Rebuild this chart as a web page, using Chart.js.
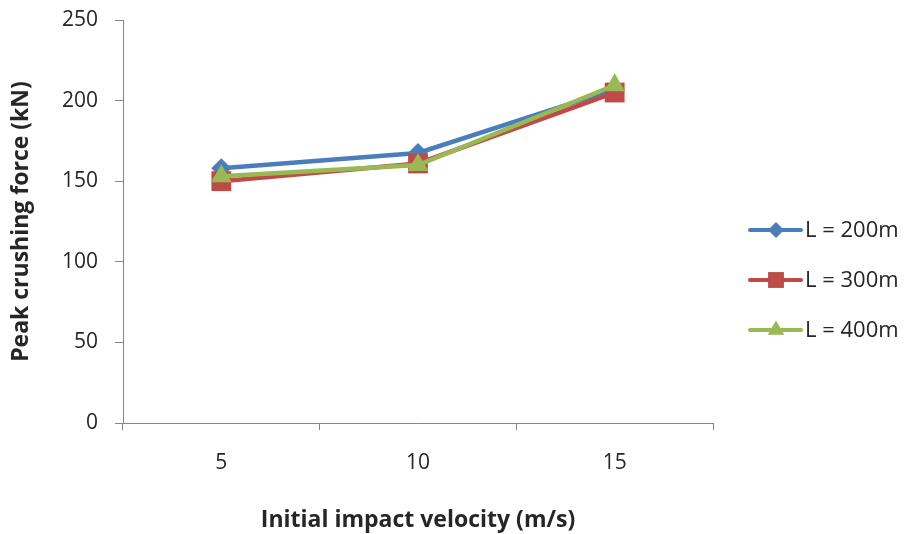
<!DOCTYPE html>
<html>
<head>
<meta charset="utf-8">
<script src="https://cdn.jsdelivr.net/npm/chart.js@4"></script>
<style>
  html, body { margin: 0; padding: 0; background: #fff; }
  #box { width: 909px; height: 534px; }
</style>
</head>
<body>
<div id="box"><canvas id="grafico"></canvas></div>
<script>
// dados
var velocidades = ['5', '10', '15'];
var serieNomes = ['L = 200m', 'L = 300m', 'L = 400m'];
var forcaL200 = [158, 167.5, 207];
var forcaL300 = [150, 161, 205];
var forcaL400 = [153, 160, 209.5];

var cores = ['#4a7ebb', '#be4b48', '#98b954'];
var marcadores = ['rectRot', 'rect', 'triangle'];
var raios = [10, 14, 12];
var fonte = '"Open Sans"';

function serie(i, valores) {
    return {
        label: serieNomes[i],
        data: valores,
        borderColor: cores[i],
        backgroundColor: cores[i],
        borderWidth: 4.5,
        pointStyle: marcadores[i],
        pointRadius: raios[i],
        pointHoverRadius: raios[i],
        pointBorderWidth: 0,
        tension: 0,
        order: 2 - i
    };
}

// legenda no estilo do Excel (linha + marcador)
var legendaExcel = {
    id: 'legendaExcel',
    afterDraw: function(chart) {
        var c = chart.ctx;
        var ys = [230, 280, 330];
        c.save();
        chart.data.datasets.forEach(function(ds, i) {
            var y = ys[i];
            c.strokeStyle = ds.borderColor;
            c.lineWidth = 4;
            c.lineCap = 'round';
            c.beginPath();
            c.moveTo(750, y);
            c.lineTo(801, y);
            c.stroke();
            c.fillStyle = ds.backgroundColor;
            Chart.helpers.drawPoint(c, { pointStyle: ds.pointStyle, radius: ds.pointRadius * 0.8, rotation: 0, borderWidth: 0 }, 776, y);
            c.fillStyle = '#262626';
            c.font = '22px ' + fonte;
            c.textBaseline = 'middle';
            c.fillText(ds.label, 805, y + 1);
        });
        c.restore();
    }
};

var ctx = document.getElementById('grafico').getContext('2d');
var grafico = new Chart(ctx, {
    type: 'line',
    data: {
        labels: velocidades,
        datasets: [serie(0, forcaL200), serie(1, forcaL300), serie(2, forcaL400)]
    },
    plugins: [legendaExcel],
    options: {
        responsive: true,
        maintainAspectRatio: false,
        animation: false,
        layout: { padding: { top: 20, right: 196, left: 0, bottom: 0 } },
        plugins: {
            legend: { display: false },
            tooltip: { enabled: false }
        },
        scales: {
            x: {
                offset: true,
                afterFit: function(s) { s.height = 111; },
                grid: { offset: true, drawOnChartArea: false, tickLength: 7, color: '#868686' },
                border: { color: '#868686', width: 1 },
                ticks: { color: '#262626', font: { family: fonte, size: 21 }, padding: 20 },
                title: {
                    display: true,
                    text: 'Initial impact velocity (m/s)',
                    color: '#262626',
                    font: { family: fonte, size: 23, weight: 'bold' },
                    padding: { top: 0, bottom: 0 }
                }
            },
            y: {
                min: 0,
                max: 250,
                afterFit: function(s) { s.width = 123; s.paddingTop = 0; s.paddingBottom = 0; },
                grid: { drawOnChartArea: false, tickLength: 8, color: '#868686' },
                border: { color: '#868686', width: 1 },
                ticks: { stepSize: 50, color: '#262626', font: { family: fonte, size: 21 }, padding: 17 },
                title: {
                    display: true,
                    text: 'Peak crushing force (kN)',
                    color: '#262626',
                    font: { family: fonte, size: 23, weight: 'bold' },
                    padding: { top: 8, bottom: 0 }
                }
            }
        }
    }
});
</script>
</body>
</html>
